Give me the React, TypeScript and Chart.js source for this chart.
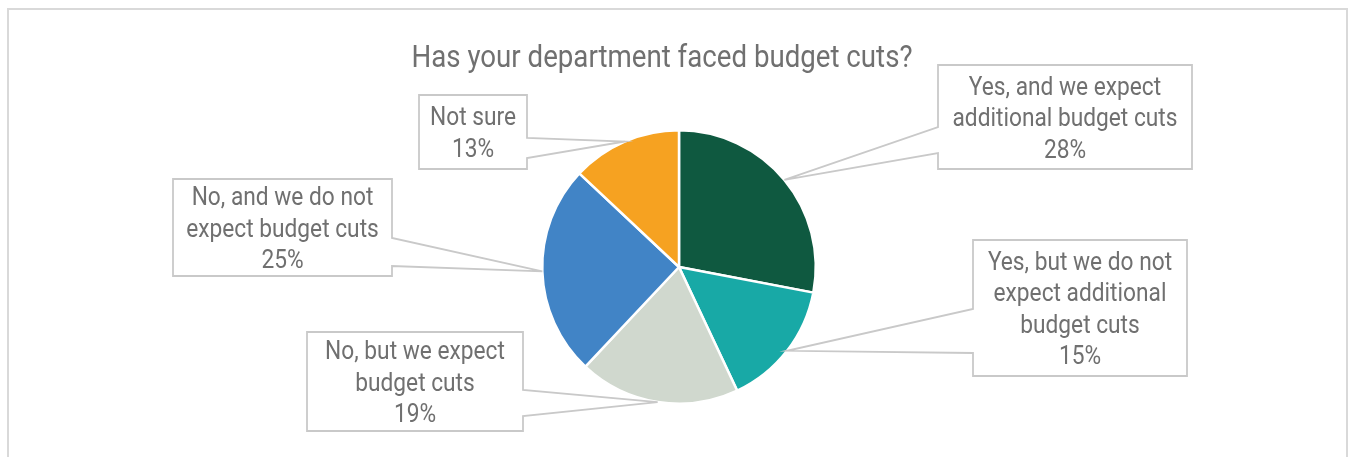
import { useEffect, useRef } from 'react';
import { Chart, registerables } from 'chart.js';

Chart.register(...registerables);

const chartTitle = 'Has your department faced budget cuts?';
const categoryLines: string[][] = [
  ['Yes, and we expect', 'additional budget cuts'],
  ['Yes, but we do not', 'expect additional', 'budget cuts'],
  ['No, but we expect', 'budget cuts'],
  ['No, and we do not', 'expect budget cuts'],
  ['Not sure'],
];
const categories = categoryLines.map((l) => l.join(' '));
const values = [28, 15, 19, 25, 13];
const colors = ['#0F5940', '#18A9A6', '#D0D8CE', '#4184C6', '#F6A221'];

// Callout box layout (label placement only): [x0, y0, x1, y1], pointer side, gap on that side
const calloutLayout = [
  { box: [938, 65, 1192, 169], side: 'left', gap: [127, 153] },
  { box: [973, 240, 1187, 376], side: 'left', gap: [309, 353] },
  { box: [307, 332, 523, 431], side: 'right', gap: [390, 416] },
  { box: [173, 179, 392, 276], side: 'right', gap: [238, 266] },
  { box: [419, 95, 527, 169], side: 'right', gap: [138, 158] },
];

const TEXT_COLOR = '#707070';
const LINE_COLOR = '#C9C9C9';
const FONT_FAMILY = 'Roboto, "Noto Sans", sans-serif';

function drawCondensed(ctx: CanvasRenderingContext2D, text: string, cx: number, cy: number, sx: number) {
  ctx.save();
  ctx.translate(cx, cy);
  ctx.scale(sx, 1);
  ctx.fillText(text, 0, 0);
  ctx.restore();
}

const calloutPlugin = {
  id: 'callouts',
  afterDraw(chart: any) {
    const ctx: CanvasRenderingContext2D = chart.ctx;
    ctx.save();
    // outer frame
    ctx.strokeStyle = '#D9D9D9';
    ctx.lineWidth = 2;
    ctx.beginPath();
    ctx.moveTo(8, 470);
    ctx.lineTo(8, 9);
    ctx.lineTo(1347, 9);
    ctx.lineTo(1347, 470);
    ctx.stroke();

    // title
    ctx.fillStyle = TEXT_COLOR;
    ctx.textAlign = 'center';
    ctx.textBaseline = 'middle';
    ctx.font = `31px ${FONT_FAMILY}`;
    const tsx = 501 / ctx.measureText(chartTitle).width;
    drawCondensed(ctx, chartTitle, 662, 59, tsx);

    // callouts
    ctx.font = `26px ${FONT_FAMILY}`;
    const lsx = 225 / ctx.measureText(categoryLines[0][1]).width;
    const meta = chart.getDatasetMeta(0);
    const total = values.reduce((a, b) => a + b, 0);
    meta.data.forEach((arc: any, i: number) => {
      const p = arc.getProps(['x', 'y', 'startAngle', 'endAngle', 'outerRadius'], true);
      const mid = (p.startAngle + p.endAngle) / 2;
      const tx = p.x + Math.cos(mid) * p.outerRadius;
      const ty = p.y + Math.sin(mid) * p.outerRadius;
      const L = calloutLayout[i];
      const [x0, y0, x1, y1] = L.box;
      const [g1, g2] = L.gap;
      ctx.strokeStyle = LINE_COLOR;
      ctx.lineWidth = 1.8;
      ctx.lineJoin = 'miter';
      ctx.beginPath();
      if (L.side === 'left') {
        ctx.moveTo(x0, g1);
        ctx.lineTo(x0, y0);
        ctx.lineTo(x1, y0);
        ctx.lineTo(x1, y1);
        ctx.lineTo(x0, y1);
        ctx.lineTo(x0, g2);
      } else {
        ctx.moveTo(x1, g1);
        ctx.lineTo(x1, y0);
        ctx.lineTo(x0, y0);
        ctx.lineTo(x0, y1);
        ctx.lineTo(x1, y1);
        ctx.lineTo(x1, g2);
      }
      ctx.lineTo(tx, ty);
      ctx.closePath();
      ctx.stroke();

      const pct = Math.round((values[i] / total) * 100) + '%';
      const lines = [...categoryLines[i], pct];
      const lh = 31.5;
      const cx = (x0 + x1) / 2;
      const cy = (y0 + y1) / 2 + 2.5;
      ctx.fillStyle = TEXT_COLOR;
      lines.forEach((t, k) => {
        const yy = cy + (k - (lines.length - 1) / 2) * lh;
        drawCondensed(ctx, t, cx, yy, lsx);
      });
    });
    ctx.restore();
  },
};

export default function App() {
  const ref = useRef<HTMLCanvasElement>(null);
  useEffect(() => {
    if (!ref.current) return;
    const chart = new Chart(ref.current, {
      type: 'pie',
      data: {
        labels: categories,
        datasets: [
          {
            data: values,
            backgroundColor: colors,
            borderColor: '#FFFFFF',
            borderWidth: 2.5,
          },
        ],
      },
      options: {
        responsive: false,
        animation: false,
        layout: { padding: { top: 129, bottom: 52, left: 541, right: 533 } },
        plugins: {
          legend: { display: false },
          tooltip: { enabled: false },
          title: { display: false },
        },
      },
      plugins: [calloutPlugin],
    });
    return () => chart.destroy();
  }, []);
  return (
    <div style={{ position: 'fixed', left: 0, top: 0, width: 1350, height: 457, background: '#fff' }}>
      <canvas ref={ref} width={1350} height={457} style={{ display: 'block' }} />
    </div>
  );
}
